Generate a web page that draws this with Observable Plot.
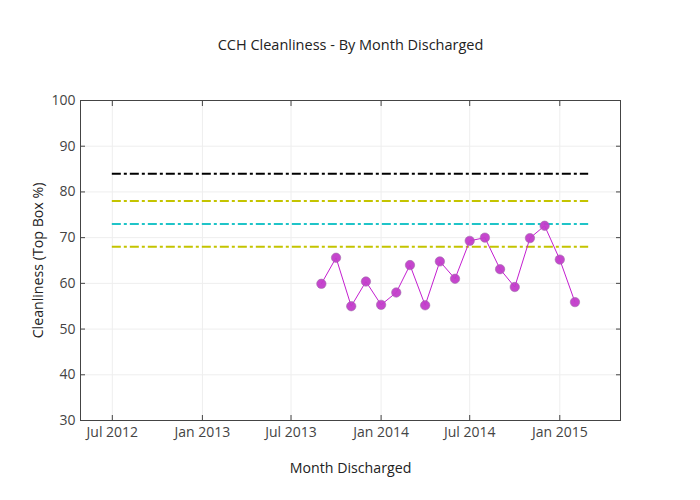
<!DOCTYPE html>
<html><head><meta charset="utf-8">
<script src="https://cdn.jsdelivr.net/npm/d3@7"></script>
<script src="https://cdn.jsdelivr.net/npm/@observablehq/plot@0.6"></script>
<style>
body{margin:0;background:#fff;}
#chart svg{font-family:"Open Sans",sans-serif;}
</style>
</head><body><div id="chart"></div>
<script>
const title = "CCH Cleanliness - By Month Discharged";
const xTitle = "Month Discharged";
const yTitle = "Cleanliness (Top Box %)";

const months = ["2013-09-01","2013-10-01","2013-11-01","2013-12-01","2014-01-01","2014-02-01","2014-03-01","2014-04-01","2014-05-01","2014-06-01","2014-07-01","2014-08-01","2014-09-01","2014-10-01","2014-11-01","2014-12-01","2015-01-01","2015-02-01"];
const values = [59.9, 65.6, 55.0, 60.4, 55.3, 58.0, 64.0, 55.2, 64.8, 61.0, 69.3, 70.0, 63.1, 59.2, 69.9, 72.6, 65.2, 55.9];

const limitValues = [84, 78, 73, 68];
const limitColors = ["#000000", "#c4c400", "#1fc4c8", "#c4c400"];
const limitStart = "2012-07-01";
const limitEnd = "2015-03-01";

const xTickDates = ["2012-07-01","2013-01-01","2013-07-01","2014-01-01","2014-07-01","2015-01-01"];
const yTickValues = [30, 40, 50, 60, 70, 80, 90, 100];
const xDomain = ["2012-04-27", "2015-05-05"];
const yDomain = [30, 100];

const parse = d3.utcParse("%Y-%m-%d");
const points = months.map((m, i) => ({date: parse(m), value: values[i]}));
const limits = limitValues.map((v, i) => ({value: v, color: limitColors[i], x1: parse(limitStart), x2: parse(limitEnd)}));
const xTicks = xTickDates.map(parse);
const fmt = d3.utcFormat("%b %Y");
const ink = "#444";

const chart = Plot.plot({
  width: 700,
  height: 500,
  marginLeft: 80,
  marginRight: 80,
  marginTop: 100,
  marginBottom: 80,
  style: {fontFamily: "'Open Sans', sans-serif", background: "#fff"},
  x: {type: "utc", domain: xDomain.map(parse)},
  y: {domain: yDomain},
  color: {type: "identity"},
  marks: [
    Plot.gridX(xTicks, {stroke: "#eee", strokeOpacity: 1, strokeWidth: 1}),
    Plot.gridY(yTickValues, {stroke: "#eee", strokeOpacity: 1, strokeWidth: 1}),
    Plot.ruleY(limits, {y: "value", x1: "x1", x2: "x2", stroke: "color", strokeWidth: 2, strokeDasharray: "9,3,3,3"}),
    Plot.line(points, {x: "date", y: "value", stroke: "#c41ed0", strokeWidth: 1}),
    Plot.dot(points, {x: "date", y: "value", r: 4.7, fill: "#c23cca", fillOpacity: 0.95, stroke: "#a070aa", strokeWidth: 0.6}),
    Plot.axisX(xTicks, {anchor: "bottom", tickSize: -5, tickPadding: 12, tickFormat: fmt, fontSize: 14, color: ink, label: null}),
    Plot.axisX(xTicks, {anchor: "top", tickSize: -5, tickFormat: () => "", color: ink, label: null}),
    Plot.axisY(yTickValues, {anchor: "left", tickSize: -5, tickPadding: 10, fontSize: 14, color: ink, label: null}),
    Plot.axisY(yTickValues, {anchor: "right", tickSize: -5, tickFormat: () => "", color: ink, label: null}),
    Plot.frame({stroke: ink, strokeWidth: 1}),
    Plot.text([title], {frameAnchor: "top", dy: -55, lineAnchor: "middle", fontSize: 14.5, fill: "#222"}),
    Plot.text([xTitle], {frameAnchor: "bottom", dy: 48, lineAnchor: "middle", fontSize: 14.2, fill: "#222"}),
    Plot.text([yTitle], {frameAnchor: "left", dx: -42, textAnchor: "middle", lineAnchor: "middle", rotate: -90, fontSize: 14.2, fill: "#222"})
  ]
});
document.getElementById("chart").append(chart);
</script>
</body></html>
